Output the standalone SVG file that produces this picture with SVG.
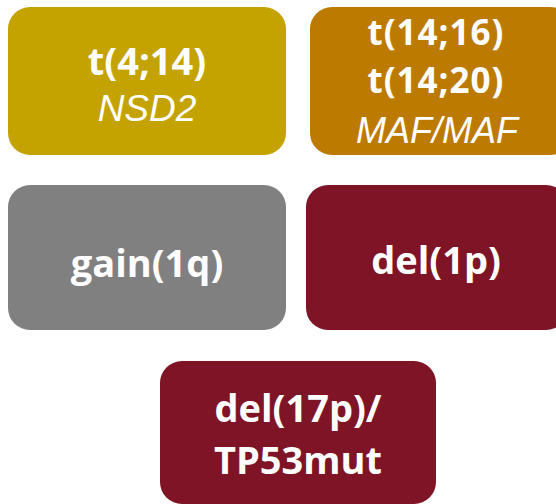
<svg xmlns="http://www.w3.org/2000/svg" width="556" height="504" viewBox="0 0 556 504">
<style>
.b{font-family:"Open Sans","Liberation Sans",sans-serif;font-weight:bold;font-size:38px;fill:#fff;text-anchor:middle}
.b2{font-size:35px;letter-spacing:1px}
.i{font-family:"Liberation Sans","Open Sans",sans-serif;font-style:italic;font-size:37px;fill:#fff;text-anchor:middle}
</style>
<rect width="556" height="504" fill="#fff"/>
<g id="t414">
<rect x="8" y="7" width="278" height="148" rx="22" fill="#C4A300"/>
<text class="b" x="147" y="75">t(4;14)</text>
<text class="i" x="147" y="121">NSD2</text>
</g>
<g id="maf">
<rect x="310" y="7" width="262" height="148" rx="22" fill="#BD7A00"/>
<text class="b b2" x="436" y="45">t(14;16)</text>
<text class="b b2" x="436" y="93">t(14;20)</text>
<text class="i" x="437" y="143" style="font-size:36px">MAF/MAF</text>
</g>
<g id="gain1q">
<rect x="8" y="185" width="278" height="145" rx="22" fill="#808080"/>
<text class="b" x="147" y="277">gain(1q)</text>
</g>
<g id="del1p">
<rect x="306" y="185" width="262" height="145" rx="22" fill="#7E1426"/>
<text class="b" x="436" y="274">del(1p)</text>
</g>
<g id="del17p">
<rect x="160" y="361" width="276" height="143" rx="22" fill="#7E1426"/>
<text class="b" x="298" y="422">del(17p)/</text>
<text class="b" x="298" y="474">TP53mut</text>
</g>
<g id="connectors"/>
</svg>
